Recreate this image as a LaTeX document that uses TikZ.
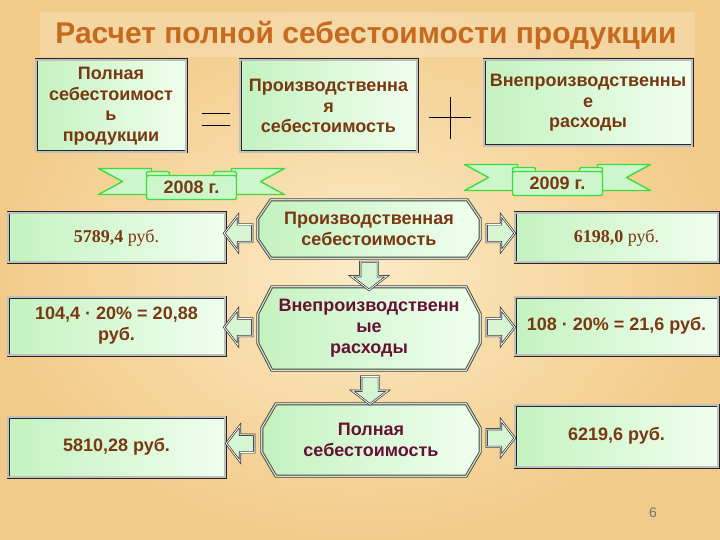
\documentclass[tikz,border=0pt]{standalone}
\usepackage{fontspec}
\setmainfont{Liberation Sans}
\newfontfamily\rubfont{Liberation Serif}
\usetikzlibrary{shapes.arrows}
\usetikzlibrary{calc}
\usetikzlibrary{backgrounds}
\definecolor{bgdark}{HTML}{F2CB8A}
\definecolor{bglight}{HTML}{FCEBC6}
\definecolor{titlecol}{HTML}{C66A1E}
\definecolor{txtbrown}{HTML}{7A3812}
\definecolor{txtmaroon}{HTML}{651236}
\definecolor{boxgreen}{HTML}{C4F2C0}
\definecolor{boxpale}{HTML}{F0FFEE}
\definecolor{ribgreen}{HTML}{3CDC3C}
\definecolor{ribfill}{HTML}{CDF6CD}
\definecolor{octline}{HTML}{3E4A36}
% octagon round a named node: name, x chamfer, y chamfer
\newcommand{\octaround}[3]{%
\path[octo] ($(#1.north west)+(#2,0)$) -- ($(#1.north east)+(-#2,0)$) -- ($(#1.north east)+(0,#3)$)
 -- ($(#1.south east)+(0,-#3)$) -- ($(#1.south east)+(-#2,0)$) -- ($(#1.south west)+(#2,0)$)
 -- ($(#1.south west)+(0,-#3)$) -- ($(#1.north west)+(0,#3)$) -- cycle;}
\tikzset{
titletext/.style={text=titlecol, font=\bfseries\fontsize{30}{32}\selectfont}, % heading
greenbox/.style={draw=black!85, line width=0.9pt, double=black!25, double distance=1.2pt, left color=boxgreen, right color=boxpale, align=center, inner sep=0pt},
topbox/.style={greenbox, text=txtbrown, font=\bfseries\fontsize{18}{20.5}\selectfont},
valbox/.style={greenbox, text=txtbrown, font=\bfseries\fontsize{18}{21}\selectfont},
octnode/.style={align=center, inner sep=0pt, font=\bfseries\fontsize{18}{21}\selectfont},
octo/.style={draw=octline, line width=0.9pt, double=black!15, double distance=1.2pt, left color=boxgreen, right color=boxpale, line join=miter},
blockarr/.style={single arrow, draw=black!80, line width=0.7pt, double=white, double distance=0.8pt, fill=boxgreen!70!white, minimum height=28pt, minimum width=35pt, single arrow head extend=9pt, single arrow tip angle=105, inner sep=8.5pt},
ribbon/.style={draw=ribgreen, line width=1.4pt, fill=ribfill, line join=round},
yeartext/.style={text=txtbrown, font=\bfseries\fontsize{18}{20}\selectfont},
}
\begin{document}
\begin{tikzpicture}[x=1pt,y=-1pt]
\path[use as bounding box] (0,0) rectangle (720,540);
\begin{scope}[on background layer]
\shade[inner color=bglight, outer color=bgdark] (0,0) rectangle (720,540);
\end{scope}
\fill[white, opacity=0.22] (40,12) rectangle (695,57);
\node[titletext] (title) at (366,35) {Расчет полной себестоимости продукции};

% formula row
\node[topbox, minimum width=150pt, minimum height=92pt] (full) at (111,106) {Полная\\себестоимост\\ь\\продукции};
\node[topbox, minimum width=177pt, minimum height=92pt] (prod) at (328.5,106) {Производственна\\я\\себестоимость};
\node[topbox, minimum width=208pt, minimum height=86pt] (nonprod) at (588,103) {Внепроизводственны\\е\\расходы};
\draw[line width=1pt] (202,114) -- (230,114) (202,126) -- (230,126); % =
\draw[line width=1pt] (429,118) -- (471,118) (450,97) -- (450,139); % +

% ribbons with years
\begin{scope}[shift={(191.5,187.5)}]
\draw[ribbon] (-93,-19) -- (-40,-19) -- (-40,7) -- (-93,7) -- (-69,-6) -- cycle;
\draw[ribbon] (93,-19) -- (40,-19) -- (40,7) -- (93,7) -- (69,-6) -- cycle;
\draw[ribbon, rounded corners=2pt] (-45,-16) rectangle (-22,-10);
\draw[ribbon, rounded corners=2pt] (22,-16) rectangle (45,-10);
\draw[ribbon, rounded corners=2pt] (-45,-12) rectangle (45,12);
\node[yeartext] (y2008) at (0,0) {2008 г.};
\end{scope}
\begin{scope}[shift={(557.5,183.5)}]
\draw[ribbon] (-93,-19) -- (-40,-19) -- (-40,7) -- (-93,7) -- (-69,-6) -- cycle;
\draw[ribbon] (93,-19) -- (40,-19) -- (40,7) -- (93,7) -- (69,-6) -- cycle;
\draw[ribbon, rounded corners=2pt] (-45,-16) rectangle (-22,-10);
\draw[ribbon, rounded corners=2pt] (22,-16) rectangle (45,-10);
\draw[ribbon, rounded corners=2pt] (-45,-12) rectangle (45,12);
\node[yeartext] (y2009) at (0,0) {2009 г.};
\end{scope}

% center column
\node[octnode, text=txtbrown, minimum width=222pt, minimum height=58pt] (p1) at (369,229) {Производственная\\себестоимость};
\node[octnode, text=txtmaroon, minimum width=222pt, minimum height=83pt] (p2) at (369,328.5) {Внепроизводственн\\ые\\расходы};
\node[octnode, text=txtmaroon, minimum width=218pt, minimum height=72pt] (p3) at (371,440) {Полная\\себестоимость};
\begin{scope}[on background layer]
\octaround{p1}{13}{19}
\octaround{p2}{14}{27}
\octaround{p3}{14}{24}
\end{scope}

% 2008 values
\node[valbox, minimum width=217pt, minimum height=49pt] (v1l) at (116.5,237.5) {\rubfont 5789,4 \mdseries руб.};
\node[valbox, minimum width=217pt, minimum height=58pt] (v2l) at (116.5,326) {104,4 · 20\% = 20,88\\руб.};
\node[valbox, minimum width=217pt, minimum height=60pt] (v3l) at (116.5,447) {5810,28 руб.};
% 2009 values
\node[valbox, minimum width=203pt, minimum height=49pt] (v1r) at (616.5,237.5) {\rubfont 6198,0 \mdseries руб.};
\node[valbox, minimum width=203pt, minimum height=58pt] (v2r) at (616.5,326) {108 · 20\% = 21,6 руб.};
\node[valbox, minimum width=203pt, minimum height=62pt] (v3r) at (616.5,436) {6219,6 руб.};

% block arrows
\node[blockarr, shape border rotate=180] (a1l) at ($(p1.west)!0.5!(v1l.east)$) {};
\node[blockarr] (a1r) at ($(p1.east)!0.5!(v1r.west)$) {};
\node[blockarr, shape border rotate=180] (a2l) at ($(p2.west)!0.5!(v2l.east)$) {};
\node[blockarr] (a2r) at ($(p2.east)!0.5!(v2r.west)$) {};
\node[blockarr, shape border rotate=180] (a3l) at ($(p3.west)!0.5!(v3l.east)$) {};
\node[blockarr] (a3r) at ($(p3.east)!0.5!(v3r.west)$) {};
\node[blockarr, shape border rotate=270] (d12) at ($(p1.south)!0.5!(p2.north)$) {};
\node[blockarr, shape border rotate=270] (d23) at ($(p2.south)!0.5!(p3.north)$) {};

\node[text=black!55, font=\fontsize{14}{16}\selectfont] (pagenum) at (653,513) {6};
\end{tikzpicture}
\end{document}
